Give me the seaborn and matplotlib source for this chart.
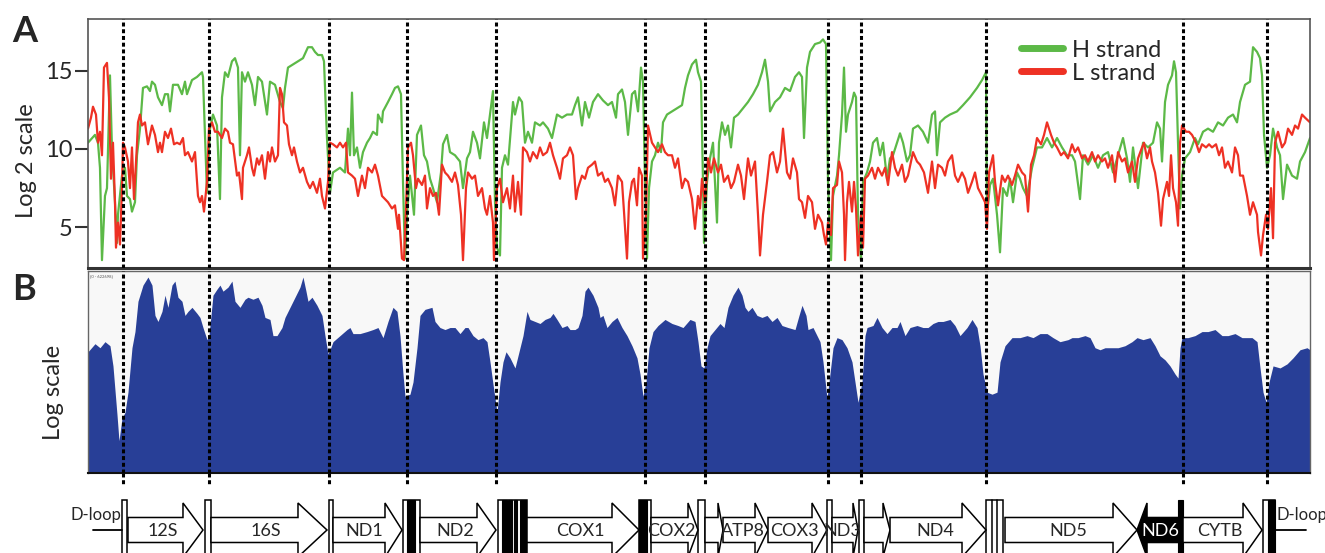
import numpy as np
import pandas as pd
import matplotlib.pyplot as plt
import seaborn as sns
from matplotlib.patches import Polygon, Rectangle

# strand-specific read depth (log2), sliding windows along the mtDNA
h_strand = [(0, 10.4), (7, 10.9), (10, 10.4), (12, 8.8), (14, 2.9), (17, 7.0), (19, 7.5), (22, 14.7), (24, 10.0),
            (27, 6.6), (29, 4.0), (30, 5.8), (34, 8.3), (37, 8.8), (39, 7.0), (42, 6.8), (44, 6.0), (47, 6.6),
            (49, 9.6), (52, 11.3), (55, 13.9), (59, 14.0), (62, 13.7), (64, 14.3), (67, 14.1), (70, 13.3),
            (74, 12.8), (77, 13.5), (80, 13.5), (82, 12.4), (85, 14.1), (90, 14.1), (94, 13.5), (97, 14.3),
            (99, 13.5), (104, 14.4), (109, 14.6), (114, 14.9), (115, 14.6), (119, 7.2), (122, 11.3), (125, 12.2),
            (129, 11.5), (132, 6.8), (134, 13.3), (137, 14.9), (140, 14.6), (144, 15.6), (147, 15.8), (150, 15.2),
            (152, 9.6), (154, 14.9), (157, 14.3), (160, 14.9), (164, 14.1), (167, 12.8), (170, 14.6), (174, 14.3),
            (179, 12.2), (182, 14.3), (187, 14.1), (192, 13.0), (195, 12.6), (197, 13.9), (200, 15.2), (205, 15.4),
            (210, 15.6), (215, 15.8), (220, 16.5), (224, 16.5), (227, 16.2), (230, 16.0), (234, 16.0), (236, 15.6),
            (239, 10.7), (242, 7.2), (245, 8.5), (252, 8.8), (257, 8.5), (260, 11.3), (262, 9.6), (264, 13.6),
            (266, 9.6), (269, 10.1), (272, 8.8), (275, 9.8), (279, 10.4), (282, 10.7), (285, 11.1), (289, 10.9),
            (290, 12.2), (294, 11.7), (295, 12.4), (300, 13.0), (304, 13.5), (307, 13.9), (310, 14.0), (313, 13.5),
            (315, 7.9), (317, 3.0), (319, 5.8), (322, 8.3), (326, 5.8), (329, 10.9), (333, 11.5), (336, 9.6),
            (339, 9.2), (342, 8.1), (345, 7.5), (349, 6.6), (353, 8.5), (355, 10.3), (359, 10.9), (362, 9.8),
            (367, 9.6), (372, 9.2), (375, 7.5), (379, 9.4), (382, 9.8), (385, 11.1), (389, 10.4), (392, 9.4),
            (396, 11.7), (399, 10.7), (402, 12.2), (405, 13.7), (407, 6.6), (409, 3.7), (412, 3.2), (414, 8.8),
            (417, 9.6), (420, 9.0), (425, 13.0), (427, 12.2), (431, 13.3), (434, 13.0), (437, 10.4), (440, 11.1),
            (444, 10.4), (447, 11.7), (452, 11.5), (455, 11.7), (460, 11.3), (464, 10.7), (469, 12.2), (474, 12.0),
            (479, 12.2), (484, 12.2), (487, 12.8), (490, 13.3), (494, 11.5), (497, 13.0), (501, 12.0), (505, 13.0),
            (510, 13.5), (515, 13.1), (520, 12.8), (524, 13.0), (528, 12.0), (530, 13.5), (534, 13.8), (537, 13.0),
            (540, 10.9), (544, 13.5), (547, 13.7), (550, 12.4), (553, 15.2), (555, 14.3), (557, 7.9), (559, 3.0),
            (561, 7.5), (564, 9.2), (567, 9.6), (570, 10.4), (573, 9.8), (575, 11.7), (579, 12.2), (584, 12.4),
            (589, 12.6), (594, 12.8), (597, 13.9), (600, 14.7), (604, 15.4), (608, 15.7), (610, 14.9), (613, 14.3),
            (615, 7.9), (616, 4.0), (619, 7.9), (622, 9.4), (625, 10.4), (629, 5.3), (631, 10.4), (634, 11.7),
            (637, 10.9), (640, 11.5), (643, 10.1), (646, 12.0), (650, 12.2), (655, 12.6), (660, 13.0), (665, 13.5),
            (670, 14.1), (674, 14.9), (677, 15.7), (680, 14.3), (682, 12.4), (687, 13.0), (692, 13.3), (697, 13.9),
            (702, 13.7), (707, 14.6), (711, 14.9), (714, 14.6), (716, 10.7), (719, 15.2), (722, 16.2), (727, 16.7),
            (732, 16.8), (735, 17.0), (738, 16.7), (740, 7.9), (743, 2.9), (745, 7.0), (749, 8.3), (751, 9.6),
            (754, 12.2), (756, 15.2), (758, 11.1), (760, 12.2), (764, 13.0), (766, 13.6), (768, 13.3), (770, 5.8),
            (773, 2.9), (775, 7.9), (779, 8.5), (782, 9.2), (785, 10.4), (789, 10.7), (792, 9.6), (795, 10.4),
            (799, 8.1), (802, 9.4), (805, 9.6), (809, 10.4), (812, 11.0), (815, 10.4), (819, 9.2), (822, 9.6),
            (825, 11.3), (830, 11.5), (835, 11.1), (840, 10.4), (844, 12.2), (847, 12.4), (849, 9.6), (852, 11.7),
            (857, 12.0), (862, 12.2), (869, 12.4), (875, 12.8), (882, 13.3), (889, 13.9), (894, 14.4), (898, 14.9),
            (899, 5.8), (902, 7.7), (905, 8.1), (909, 5.8), (912, 3.4), (915, 7.5), (919, 7.0), (922, 8.1),
            (925, 6.6), (929, 8.5), (932, 8.1), (935, 7.5), (939, 7.0), (944, 8.8), (949, 10.1), (954, 10.1),
            (959, 10.7), (964, 10.1), (969, 10.7), (974, 10.1), (979, 9.6), (984, 9.6), (987, 9.2), (992, 6.8),
            (995, 9.6), (1000, 9.0), (1005, 9.6), (1010, 8.8), (1015, 9.6), (1020, 9.8), (1025, 8.5), (1030, 9.6),
            (1035, 10.7), (1039, 9.4), (1042, 7.9), (1045, 10.1), (1050, 7.5), (1055, 10.4), (1060, 10.1),
            (1065, 10.4), (1069, 11.7), (1072, 11.3), (1074, 9.2), (1077, 13.0), (1080, 14.1), (1084, 14.7),
            (1086, 15.6), (1088, 14.9), (1090, 10.4), (1092, 6.2), (1094, 8.3), (1097, 9.4), (1102, 9.8),
            (1107, 10.7), (1110, 10.3), (1115, 11.1), (1120, 11.3), (1125, 11.1), (1130, 11.7), (1135, 11.5),
            (1140, 12.0), (1145, 12.2), (1149, 11.7), (1152, 13.0), (1157, 14.1), (1162, 14.3), (1165, 16.5),
            (1169, 16.2), (1172, 15.8), (1174, 14.7), (1176, 10.9), (1179, 8.8), (1182, 9.6), (1185, 11.3),
            (1189, 10.1), (1192, 9.6), (1195, 6.8), (1199, 9.0), (1204, 8.3), (1209, 8.1), (1212, 9.2),
            (1217, 9.8), (1222, 10.7)]

l_strand = [(0, 11.3), (3, 12.0), (5, 12.7), (8, 12.2), (10, 10.4), (12, 11.1), (14, 9.6), (16, 15.2), (19, 15.5),
            (21, 13.3), (23, 8.1), (25, 10.4), (27, 6.6), (28, 3.7), (30, 5.3), (32, 3.9), (34, 7.5), (35, 10.4),
            (37, 10.1), (40, 9.2), (42, 7.5), (44, 10.1), (46, 6.8), (49, 10.3), (50, 11.7), (52, 12.2), (54, 11.5),
            (57, 11.7), (60, 10.3), (64, 11.5), (67, 10.9), (70, 9.8), (72, 10.4), (74, 9.8), (77, 11.1), (80, 10.7),
            (83, 11.3), (86, 10.3), (89, 10.4), (92, 10.3), (95, 10.7), (97, 9.6), (100, 9.8), (104, 9.2), (107, 9.8),
            (110, 7.0), (112, 6.6), (114, 7.0), (116, 6.0), (119, 7.9), (121, 11.3), (124, 11.7), (127, 11.1),
            (130, 11.1), (134, 10.7), (137, 11.3), (140, 11.1), (142, 10.4), (145, 10.3), (149, 8.3), (151, 8.5),
            (154, 6.8), (155, 8.8), (159, 9.6), (161, 10.1), (164, 8.8), (166, 8.3), (169, 9.4), (171, 9.0),
            (174, 9.6), (177, 8.1), (180, 9.8), (182, 9.2), (184, 10.1), (187, 9.2), (190, 9.6), (192, 13.9),
            (194, 13.5), (196, 11.7), (199, 11.5), (201, 10.3), (204, 9.6), (206, 10.1), (209, 9.2), (212, 8.5),
            (215, 8.8), (219, 7.9), (222, 7.5), (225, 7.9), (229, 7.2), (232, 8.1), (234, 7.0), (237, 6.2),
            (240, 7.9), (242, 10.4), (245, 10.3), (249, 10.1), (252, 10.4), (255, 10.1), (258, 10.4), (260, 8.5),
            (264, 8.3), (267, 8.1), (270, 7.0), (274, 8.3), (277, 7.5), (280, 8.8), (284, 8.5), (287, 9.0),
            (290, 8.3), (294, 7.0), (297, 6.8), (300, 6.6), (304, 6.2), (307, 6.4), (310, 4.9), (311, 5.8),
            (314, 3.0), (316, 2.9), (318, 6.2), (320, 10.1), (323, 10.4), (325, 9.6), (328, 7.5), (330, 8.1),
            (334, 7.7), (337, 8.3), (339, 6.2), (342, 7.5), (345, 7.0), (348, 7.2), (351, 5.8), (354, 9.0),
            (357, 8.5), (360, 8.3), (364, 7.9), (367, 8.5), (370, 7.7), (373, 5.8), (375, 2.9), (378, 7.5),
            (380, 8.5), (384, 8.1), (387, 8.3), (390, 7.0), (394, 7.5), (397, 6.2), (399, 5.8), (402, 7.0),
            (405, 5.3), (406, 2.9), (409, 7.5), (412, 8.1), (415, 6.6), (419, 7.5), (422, 6.2), (425, 8.3),
            (427, 6.0), (430, 7.9), (433, 5.8), (435, 10.1), (439, 9.8), (442, 9.2), (445, 9.8), (449, 9.4),
            (452, 10.1), (455, 9.6), (459, 9.8), (462, 10.4), (465, 9.6), (469, 8.8), (472, 8.1), (475, 9.4),
            (479, 9.6), (482, 10.1), (485, 9.6), (488, 6.8), (490, 7.5), (494, 8.3), (497, 8.1), (500, 8.8),
            (504, 9.0), (507, 9.2), (510, 8.3), (514, 8.5), (517, 7.9), (520, 8.1), (524, 7.5), (527, 6.4),
            (530, 8.3), (534, 7.9), (536, 6.0), (539, 3.0), (541, 6.6), (544, 7.9), (546, 8.1), (549, 6.4),
            (551, 8.8), (554, 8.3), (555, 3.0), (558, 5.8), (560, 11.5), (564, 10.4), (567, 10.1), (570, 9.8),
            (574, 10.3), (577, 9.8), (580, 9.6), (584, 9.6), (587, 8.8), (590, 9.4), (594, 7.5), (597, 8.1),
            (600, 7.9), (604, 6.8), (607, 4.9), (610, 7.0), (612, 6.2), (614, 8.1), (617, 6.6), (620, 9.4),
            (623, 8.5), (626, 9.4), (630, 8.5), (633, 9.0), (636, 7.9), (640, 8.3), (643, 7.5), (646, 7.9),
            (650, 9.0), (653, 8.3), (656, 6.8), (660, 9.4), (663, 8.3), (667, 9.2), (670, 5.8), (672, 3.2),
            (675, 5.8), (679, 7.9), (682, 9.6), (685, 9.8), (689, 8.5), (692, 9.2), (695, 11.3), (699, 8.5),
            (702, 8.1), (705, 9.4), (709, 8.5), (711, 6.8), (714, 6.6), (717, 5.6), (720, 7.0), (724, 6.6),
            (727, 4.9), (730, 5.8), (734, 5.3), (736, 4.5), (738, 3.9), (740, 5.3), (743, 4.5), (745, 7.5),
            (749, 7.7), (751, 9.2), (754, 8.5), (756, 5.8), (757, 2.9), (759, 6.6), (761, 7.9), (764, 6.0),
            (766, 7.9), (768, 6.2), (770, 3.2), (773, 5.8), (775, 3.7), (777, 8.1), (780, 8.3), (784, 8.8),
            (787, 8.1), (790, 8.8), (794, 8.3), (797, 8.8), (800, 7.7), (804, 9.8), (807, 8.8), (810, 8.3),
            (814, 9.0), (817, 7.9), (820, 8.3), (825, 9.8), (829, 9.2), (832, 9.0), (836, 8.5), (840, 7.2),
            (844, 9.2), (847, 7.5), (850, 9.0), (854, 8.8), (857, 8.3), (860, 9.2), (864, 9.6), (867, 8.3),
            (870, 7.9), (874, 8.5), (877, 8.1), (880, 7.2), (884, 7.9), (887, 8.5), (890, 7.5), (894, 7.0),
            (897, 6.6), (899, 4.9), (901, 8.5), (905, 9.6), (907, 7.9), (910, 6.4), (914, 8.3), (917, 7.9),
            (920, 8.3), (924, 7.7), (927, 8.3), (930, 9.0), (934, 8.5), (937, 8.3), (940, 6.0), (943, 9.0),
            (946, 9.6), (949, 10.7), (953, 10.3), (956, 10.9), (959, 11.7), (963, 10.9), (966, 10.4), (969, 10.1),
            (973, 9.6), (976, 9.8), (980, 9.4), (984, 10.3), (987, 9.8), (990, 10.1), (994, 9.4), (997, 9.6),
            (1000, 9.2), (1004, 9.8), (1007, 9.2), (1010, 9.6), (1014, 9.2), (1017, 9.4), (1020, 8.8), (1024, 9.6),
            (1027, 7.9), (1030, 9.8), (1034, 9.2), (1037, 9.4), (1040, 8.5), (1044, 9.2), (1047, 7.9), (1050, 9.4),
            (1054, 10.1), (1056, 10.4), (1059, 9.4), (1062, 10.1), (1064, 9.2), (1067, 8.5), (1070, 7.2),
            (1073, 5.1), (1075, 6.8), (1079, 7.9), (1081, 7.0), (1083, 9.6), (1085, 7.5), (1088, 6.6), (1090, 5.1),
            (1092, 10.4), (1094, 11.5), (1098, 11.1), (1101, 11.1), (1104, 10.9), (1108, 10.4), (1111, 9.8),
            (1114, 10.3), (1118, 10.1), (1121, 10.3), (1124, 10.1), (1128, 10.3), (1131, 9.6), (1134, 10.1),
            (1137, 8.8), (1140, 9.2), (1144, 8.5), (1147, 10.1), (1150, 9.6), (1152, 8.3), (1155, 8.3), (1159, 7.0),
            (1162, 5.8), (1165, 6.6), (1169, 5.8), (1170, 4.7), (1173, 3.2), (1175, 4.5), (1178, 5.8), (1180, 4.9),
            (1183, 7.5), (1185, 4.3), (1187, 10.4), (1190, 11.1), (1194, 10.1), (1197, 10.4), (1200, 11.3),
            (1204, 10.9), (1207, 11.5), (1210, 11.3), (1214, 12.2), (1217, 12.0), (1222, 11.7)]

# total coverage (log scale, % of track range)
coverage = [(0, 60), (7, 64), (12, 62), (17, 65), (22, 63), (25, 53), (29, 29), (31, 16), (34, 27), (37, 30), (40, 40),
            (44, 62), (47, 70), (50, 85), (55, 93), (60, 97), (64, 93), (67, 78), (70, 75), (74, 80), (77, 88),
            (80, 82), (84, 93), (87, 95), (90, 87), (94, 85), (97, 78), (100, 80), (104, 82), (109, 79), (112, 77),
            (115, 72), (119, 66), (121, 68), (125, 88), (129, 91), (132, 93), (135, 90), (140, 92), (144, 95),
            (147, 85), (152, 82), (157, 86), (160, 87), (165, 86), (170, 87), (174, 83), (177, 77), (182, 76),
            (185, 68), (189, 68), (194, 72), (197, 77), (202, 82), (207, 87), (212, 92), (215, 97), (218, 90),
            (220, 85), (224, 87), (229, 83), (234, 78), (237, 68), (240, 59), (242, 61), (245, 65), (252, 68),
            (259, 71), (262, 72), (265, 69), (272, 69), (279, 70), (285, 71), (290, 72), (295, 67), (300, 75),
            (305, 82), (309, 80), (312, 68), (315, 49), (317, 38), (322, 39), (325, 45), (329, 62), (332, 78),
            (337, 81), (344, 82), (347, 75), (352, 72), (357, 71), (362, 72), (367, 72), (372, 69), (377, 72),
            (380, 72), (385, 68), (390, 66), (395, 67), (399, 65), (402, 55), (405, 44), (409, 30), (412, 45),
            (415, 55), (418, 60), (422, 57), (427, 52), (432, 62), (435, 68), (439, 80), (442, 76), (447, 75),
            (452, 74), (457, 76), (462, 77), (465, 79), (469, 76), (474, 72), (479, 73), (482, 71), (487, 71),
            (490, 72), (494, 78), (497, 90), (500, 92), (505, 88), (510, 82), (512, 77), (515, 78), (519, 72),
            (524, 75), (529, 77), (534, 72), (539, 68), (544, 63), (549, 57), (552, 49), (555, 38), (558, 45),
            (561, 62), (565, 70), (570, 73), (577, 76), (584, 74), (590, 73), (595, 72), (602, 76), (607, 75),
            (610, 65), (613, 53), (616, 52), (619, 62), (622, 68), (627, 71), (632, 74), (636, 72), (640, 82),
            (645, 88), (650, 92), (654, 88), (657, 82), (660, 80), (664, 82), (669, 78), (674, 77), (679, 78),
            (684, 75), (689, 77), (694, 73), (700, 72), (707, 71), (711, 78), (714, 83), (718, 78), (720, 71),
            (725, 72), (732, 65), (735, 55), (739, 37), (741, 45), (745, 62), (749, 67), (754, 66), (759, 62),
            (764, 55), (767, 45), (770, 35), (774, 45), (777, 68), (779, 72), (785, 73), (789, 77), (794, 72),
            (799, 69), (804, 72), (809, 72), (812, 75), (817, 68), (822, 72), (829, 73), (835, 72), (840, 72),
            (845, 74), (850, 75), (855, 75), (862, 76), (867, 73), (872, 68), (879, 72), (884, 76), (889, 72),
            (892, 63), (895, 49), (899, 40), (904, 39), (909, 40), (912, 55), (917, 63), (924, 67), (932, 67),
            (939, 68), (945, 67), (952, 69), (959, 69), (965, 67), (972, 65), (980, 66), (984, 67), (990, 67),
            (997, 68), (1002, 67), (1007, 62), (1012, 61), (1017, 62), (1024, 62), (1030, 62), (1037, 63),
            (1044, 65), (1049, 67), (1055, 66), (1062, 67), (1067, 63), (1072, 58), (1077, 56), (1082, 53),
            (1087, 49), (1090, 47), (1092, 62), (1094, 67), (1100, 67), (1107, 68), (1114, 70), (1120, 70),
            (1127, 71), (1134, 68), (1140, 68), (1147, 69), (1154, 67), (1164, 67), (1169, 65), (1172, 52),
            (1175, 40), (1178, 35), (1181, 45), (1185, 53), (1192, 52), (1199, 54), (1205, 57), (1212, 61),
            (1219, 62), (1222, 61)]

# gene boundaries marked by dashed lines
boundaries = [35, 121, 241, 319, 408, 557, 617, 740, 773, 898, 1095, 1179]

# genes: name, start, head start, end (forward strand arrows)
genes = [("12S", 40, 95, 115), ("16S", 123, 210, 239), ("ND1", 245, 297, 314), ("ND2", 332, 389, 408),
         ("COX1", 439, 524, 551), ("COX2", 563, 600, 610), ("", 617, 630, 635), ("ATP8", 635, 667, 680),
         ("COX3", 680, 724, 739), ("ND3", 744, 765, 770), ("", 776, 795, 802), ("ND4", 802, 874, 898),
         ("ND5", 917, 1025, 1049), ("CYTB", 1095, 1155, 1174)]
nd6 = ("ND6", 1049, 1059, 1090)  # reverse strand
trna_boxes = [(34, 39), (117, 123), (241, 245), (315, 332), (410, 439), (551, 563), (610, 617),
              (739, 744), (771, 776), (898, 915), (1175, 1187)]
trna_dark = [(319, 327), (414, 419), (420, 424), (426, 429), (432, 438), (551, 559), (1090, 1095), (1180, 1187)]
trna_lines = [904, 909]
dloop = [(5, 34), (1187, 1218)]

green = "#5cb947"
red = "#ee3124"
blue = "#283f97"

sns.set_theme(style="white")
plt.rcParams['font.family'] = ['Lato', 'DejaVu Sans']

tracks = pd.concat([
    pd.DataFrame(h_strand, columns=["window", "log2"]).assign(strand="H strand"),
    pd.DataFrame(l_strand, columns=["window", "log2"]).assign(strand="L strand"),
])
cov = pd.DataFrame(coverage, columns=["window", "depth"])

fig = plt.figure(figsize=(13.25, 5.53), dpi=100)
ax_a = fig.add_axes([0.0664, 0.5154, 0.9223, 0.4502])
ax_b = fig.add_axes([0.0664, 0.1447, 0.9223, 0.3653])
ax_g = fig.add_axes([0.0664, 0.0, 0.9223, 0.1447])

# panel A
sns.lineplot(data=tracks, x="window", y="log2", hue="strand", palette={"H strand": green, "L strand": red},
             estimator=None, sort=False, lw=1.6, ax=ax_a)
ax_a.set_xlim(0, 1222)
ax_a.set_ylim(2.4, 18.3)
ax_a.set_yticks([5, 10, 15])
ax_a.set_xticks([])
ax_a.set_xlabel("")
ax_a.set_ylabel("Log 2 scale", fontsize=17, va="center")
ax_a.yaxis.set_label_coords(-0.05, 0.43)
ax_a.tick_params(axis="y", left=True, length=9.5, width=1.5, pad=1.5, labelsize=17, color="#333333")
for s in ax_a.spines.values():
    s.set_color("#555555")
    s.set_linewidth(1.2)
ax_a.spines["bottom"].set_color("#333333")
ax_a.spines["bottom"].set_linewidth(2.2)
leg = ax_a.legend(loc="upper left", bbox_to_anchor=(0.756, 0.955), frameon=False, fontsize=17,
                  handlelength=1.75, handletextpad=0.4, labelspacing=0.08, borderaxespad=0)
for ln in leg.get_lines():
    ln.set_linewidth(5)

# panel B
ax_b.set_facecolor("#f8f8f8")
ax_b.fill_between(cov["window"], 0, cov["depth"], color=blue, lw=0)
ax_b.set_xlim(0, 1222)
ax_b.set_ylim(0, 100)
ax_b.set_xticks([])
ax_b.set_yticks([])
ax_b.set_ylabel("Log scale", fontsize=17, va="center")
ax_b.yaxis.set_label_coords(-0.028, 0.4)
for s in ax_b.spines.values():
    s.set_color("#666666")
    s.set_linewidth(1.0)
ax_b.spines["bottom"].set_color("#111111")
ax_b.spines["bottom"].set_linewidth(1.5)
ax_b.text(0.002, 0.985, "[0 - 622698]", transform=ax_b.transAxes, fontsize=3, color="#555555", va="top")

for ax in (ax_a, ax_b):
    for b in boundaries:
        ax.axvline(b, color="black", lw=2.2, ls=(0, (1.3, 0.9)), zorder=5)

# gene map
ax_g.set_xlim(0, 1222)
ax_g.set_ylim(-23, 57)
ax_g.axis("off")
for b in boundaries:
    ax_g.plot([b, b], [57, 44], color="black", lw=2.2, ls=(0, (1.3, 0.9)), clip_on=False)
for x0, x1 in dloop:
    ax_g.plot([x0, x1], [0, 0], color="black", lw=1.3, clip_on=False)
ax_g.text(dloop[0][1] - 1, 15, "D-loop", ha="right", va="center", fontsize=12, clip_on=False)
ax_g.text(dloop[1][0] + 1, 15, "D-loop", ha="left", va="center", fontsize=12, clip_on=False)
for x0, x1 in trna_boxes:
    ax_g.add_patch(Rectangle((x0, -40), x1 - x0, 70, facecolor="white", edgecolor="black", lw=1.1, clip_on=False))
for x0, x1 in trna_dark:
    ax_g.add_patch(Rectangle((x0, -40), x1 - x0, 70, facecolor="black", edgecolor="black", lw=0.8, clip_on=False))
for x in trna_lines:
    ax_g.plot([x, x], [-40, 30], color="black", lw=1.1, clip_on=False)
for name, x0, h, x1 in genes:
    pts = [(x0, -12.5), (h, -12.5), (h, -27), (x1, 0), (h, 27), (h, 12.5), (x0, 12.5)]
    ax_g.add_patch(Polygon(pts, closed=True, facecolor="white", edgecolor="black", lw=1.1, clip_on=False))
    if name:
        ax_g.text((x0 + x1) / 2 - 3, -1, name, ha="center", va="center", fontsize=13)
name, tip, h, x1 = nd6
pts = [(x1, -12.5), (h, -12.5), (h, -27), (tip, 0), (h, 27), (h, 12.5), (x1, 12.5)]
ax_g.add_patch(Polygon(pts, closed=True, facecolor="black", edgecolor="black", lw=1.1, clip_on=False))
ax_g.text((tip + x1) / 2 + 3, -1, name, ha="center", va="center", fontsize=13, color="white")

fig.text(0.009, 0.973, "A", fontsize=26, fontweight="bold", ha="left", va="top")
fig.text(0.009, 0.506, "B", fontsize=26, fontweight="bold", ha="left", va="top")

fig.savefig("out.png", dpi=100)
